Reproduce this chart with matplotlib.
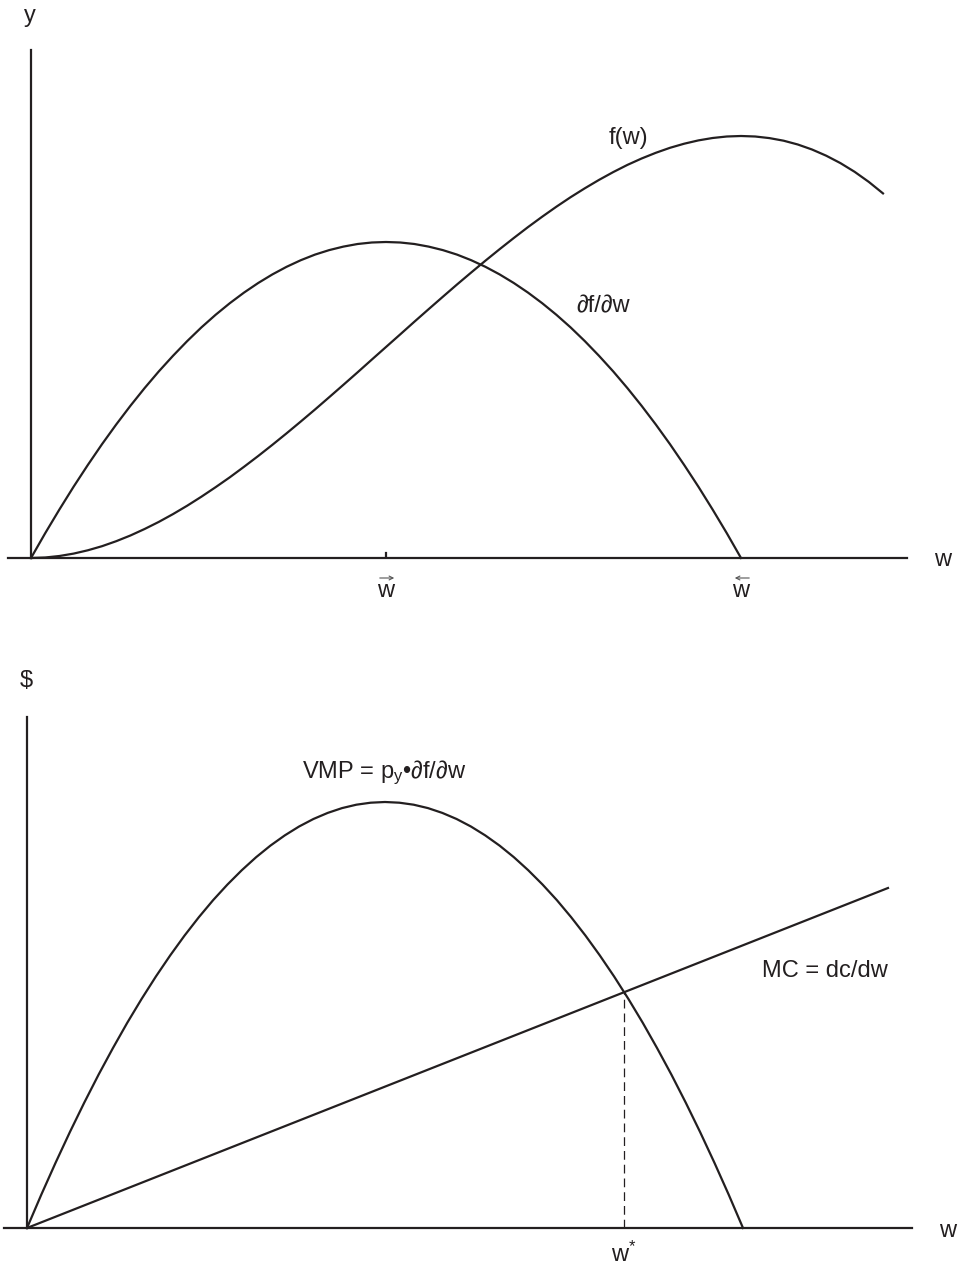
import matplotlib
matplotlib.use("Agg")
import matplotlib.pyplot as plt
from matplotlib.patches import FancyArrowPatch

plt.rcParams["font.family"] = ["Liberation Sans", "DejaVu Sans"]
plt.rcParams["mathtext.fontset"] = "custom"
plt.rcParams["mathtext.rm"] = "Liberation Sans"
plt.rcParams["mathtext.it"] = "Liberation Sans:italic"
plt.rcParams["lines.solid_joinstyle"] = "round"

INK = "#231f20"
FS = 17

# ── Data ──────────────────────────────────────────────
# top panel: production function f(w) and its slope df/dw
w_f = [0.00, 0.02, 0.04, 0.06, 0.08, 0.10, 0.12, 0.14, 0.16, 0.18, 0.20,
       0.22, 0.24, 0.26, 0.28, 0.30, 0.32, 0.34, 0.36, 0.38, 0.40,
       0.42, 0.44, 0.46, 0.48, 0.50, 0.52, 0.54, 0.56, 0.58, 0.60,
       0.62, 0.64, 0.66, 0.68, 0.70, 0.72, 0.74, 0.76, 0.78, 0.80,
       0.82, 0.84, 0.86, 0.88, 0.90, 0.92, 0.94, 0.96, 0.98, 1.00,
       1.02, 1.04, 1.06, 1.08, 1.10, 1.12, 1.14, 1.16, 1.18, 1.20]
f_w = [0.000, 0.005, 0.020, 0.044, 0.077, 0.118, 0.168, 0.225, 0.290, 0.361, 0.439,
       0.523, 0.613, 0.708, 0.807, 0.912, 1.020, 1.132, 1.247, 1.365, 1.485,
       1.608, 1.732, 1.857, 1.984, 2.110, 2.236, 2.363, 2.488, 2.612, 2.735,
       2.855, 2.973, 3.088, 3.200, 3.309, 3.413, 3.513, 3.608, 3.697, 3.781,
       3.859, 3.931, 3.995, 4.052, 4.102, 4.143, 4.176, 4.200, 4.215, 4.220,
       4.215, 4.199, 4.173, 4.135, 4.085, 4.023, 3.949, 3.862, 3.761, 3.646]
w_mp = [0.00, 0.02, 0.04, 0.06, 0.08, 0.10, 0.12, 0.14, 0.16, 0.18, 0.20,
        0.22, 0.24, 0.26, 0.28, 0.30, 0.32, 0.34, 0.36, 0.38, 0.40,
        0.42, 0.44, 0.46, 0.48, 0.50, 0.52, 0.54, 0.56, 0.58, 0.60,
        0.62, 0.64, 0.66, 0.68, 0.70, 0.72, 0.74, 0.76, 0.78, 0.80,
        0.82, 0.84, 0.86, 0.88, 0.90, 0.92, 0.94, 0.96, 0.98, 1.00]
mp = [0.000, 0.248, 0.485, 0.713, 0.930, 1.138, 1.335, 1.522, 1.699, 1.866, 2.022,
      2.169, 2.306, 2.432, 2.548, 2.654, 2.750, 2.836, 2.912, 2.978, 3.034,
      3.079, 3.114, 3.140, 3.155, 3.160, 3.155, 3.140, 3.114, 3.079, 3.034,
      2.978, 2.912, 2.836, 2.750, 2.654, 2.548, 2.432, 2.306, 2.169, 2.022,
      1.866, 1.699, 1.522, 1.335, 1.138, 0.930, 0.713, 0.485, 0.248, 0.000]
w_bar_right = 0.5   # where df/dw peaks
w_bar_left = 1.0    # where df/dw hits zero

# bottom panel: value of marginal product vs marginal cost
vmp = [0.000, 0.334, 0.654, 0.961, 1.254, 1.534, 1.799, 2.052, 2.290, 2.515, 2.726,
       2.924, 3.108, 3.279, 3.435, 3.578, 3.708, 3.824, 3.926, 4.015, 4.090,
       4.151, 4.199, 4.233, 4.253, 4.260, 4.253, 4.233, 4.199, 4.151, 4.090,
       4.015, 3.926, 3.824, 3.708, 3.578, 3.435, 3.279, 3.108, 2.924, 2.726,
       2.515, 2.290, 2.052, 1.799, 1.534, 1.254, 0.961, 0.654, 0.334, 0.000]
w_mc = [0.0, 1.2025]
mc = [0.0, 3.40]
w_star = 0.834
cost_at_star = 2.36

# ── Figure ────────────────────────────────────────────
W, H = 958, 1267
fig = plt.figure(figsize=(W / 100, H / 100), dpi=100)


def box(x0, y0, x1, y1):
    return [x0 / W, 1 - y1 / H, (x1 - x0) / W, (y1 - y0) / H]


def ftext(x, y, s, **kw):
    fig.text(x / W, 1 - y / H, s, fontsize=FS, color=INK, va="baseline", **kw)


def arrow_over(ax, xw, direction):
    # thin arrow above a tick label, offsets in pixels
    x0, y0 = ax.transData.transform((xw, 0))
    a, b = (x0 - 9, x0 + 11) if direction > 0 else (x0 + 11, x0 - 9)
    fig.patches.append(FancyArrowPatch((a, y0 - 20), (b, y0 - 20),
                                       transform=None, arrowstyle="->",
                                       mutation_scale=7, lw=0.8, color="#555555"))


# top panel
ax1 = fig.add_axes(box(8, 50, 907, 558))
ax1.set_xlim(-23 / 710, 876 / 710)
ax1.set_ylim(0, 5.08)
ax1.axis("off")
ax1.plot(ax1.get_xlim(), [0, 0], color=INK, lw=1.6, clip_on=False)
ax1.plot([0, 0], [0, 5.08], color=INK, lw=1.6, clip_on=False)
ax1.plot(w_f, f_w, color=INK, lw=1.6, clip_on=False)
ax1.plot(w_mp, mp, color=INK, lw=1.6, clip_on=False)
ax1.plot([w_bar_right, w_bar_right], [0, 0.05], color=INK, lw=1.6)
for xw, d in [(w_bar_right, 1), (w_bar_left, -1)]:
    ax1.annotate("w", (xw, 0), xytext=(0, -39), textcoords="offset pixels",
                 ha="center", va="baseline", fontsize=FS, color=INK)
    arrow_over(ax1, xw, d)

ftext(30, 22, "y", ha="center")
ftext(943, 566, "w", ha="center")
ftext(609, 144, "f(w)")
ftext(576, 312, "∂f/∂w")

# bottom panel
ax2 = fig.add_axes(box(4, 717, 912, 1228))
ax2.set_xlim(-23 / 716, 885 / 716)
ax2.set_ylim(0, 5.11)
ax2.axis("off")
ax2.plot(ax2.get_xlim(), [0, 0], color=INK, lw=1.6, clip_on=False)
ax2.plot([0, 0], [0, 5.11], color=INK, lw=1.6, clip_on=False)
ax2.plot(w_mp, vmp, color=INK, lw=1.6, clip_on=False)
ax2.plot(w_mc, mc, color=INK, lw=1.6, clip_on=False)
ax2.plot([w_star, w_star], [0, cost_at_star], color=INK, lw=0.9,
         linestyle=(0, (7, 4)))
ax2.annotate(r"w$^{\mathregular{*}}$", (w_star, 0), xytext=(0, -34),
             textcoords="offset pixels", ha="center", va="baseline",
             fontsize=FS, color=INK)

ftext(26, 687, "$", ha="center")
ftext(948, 1237, "w", ha="center")
ftext(302, 778, r"VMP = p$_{\mathregular{y}}$•∂f/∂w")
ftext(762, 977, "MC = dc/dw")

fig.savefig("out.png", dpi=100)
